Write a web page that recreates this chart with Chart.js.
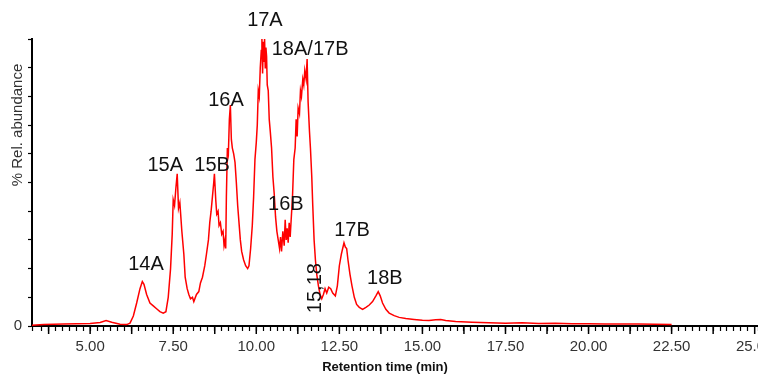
<!DOCTYPE html>
<html>
<head>
<meta charset="utf-8">
<script src="https://cdn.jsdelivr.net/npm/chart.js@4/dist/chart.umd.min.js"></script>
<style>
  body { margin: 0; background: #fff; }
  #wrap { width: 758px; height: 375px; position: relative; }
</style>
</head>
<body>
<div id="wrap"><canvas id="js--chart"></canvas></div>
<script>
// retention time (min) and relative abundance (%)
const times = [
  3.25, 3.6, 3.9, 4.2, 4.6, 5.0, 5.3, 5.48, 5.65, 5.9, 6.1, 6.2, 6.3, 6.4, 6.5, 6.57, 6.62, 6.7, 6.8, 6.9,
  7.0, 7.1, 7.2, 7.28, 7.35, 7.42, 7.47, 7.5, 7.54, 7.58, 7.62, 7.66, 7.7, 7.76, 7.82, 7.86, 7.92, 7.97,
  8.02, 8.08, 8.12, 8.2, 8.27, 8.32, 8.38, 8.45, 8.5, 8.56, 8.6, 8.64, 8.68, 8.72, 8.74, 8.78, 8.81, 8.85,
  8.88, 8.92, 8.96, 9.0, 9.03, 9.06, 9.08, 9.1, 9.13, 9.16, 9.19, 9.22, 9.25, 9.28, 9.32, 9.36, 9.4, 9.44,
  9.48, 9.52, 9.56, 9.62, 9.68, 9.74, 9.78, 9.83, 9.88, 9.92, 9.96, 10.0, 10.03, 10.06, 10.09, 10.12,
  10.15, 10.17, 10.19, 10.21, 10.23, 10.25, 10.27, 10.29, 10.31, 10.33, 10.36, 10.39, 10.42, 10.46, 10.5,
  10.54, 10.58, 10.62, 10.66, 10.7, 10.73, 10.76, 10.8, 10.84, 10.87, 10.9, 10.93, 10.96, 10.99, 11.02,
  11.05, 11.09, 11.13, 11.17, 11.2, 11.23, 11.26, 11.3, 11.33, 11.36, 11.4, 11.43, 11.46, 11.5, 11.53,
  11.56, 11.6, 11.63, 11.67, 11.7, 11.74, 11.78, 11.82, 11.87, 11.92, 11.97, 12.02, 12.07, 12.12, 12.18,
  12.24, 12.3, 12.38, 12.44, 12.5, 12.56, 12.6, 12.64, 12.68, 12.72, 12.76, 12.82, 12.88, 12.95, 13.02,
  13.1, 13.2, 13.3, 13.4, 13.5, 13.6, 13.67, 13.73, 13.8, 13.9, 14.0, 14.15, 14.3, 14.5, 14.75, 15.0,
  15.2, 15.4, 15.55, 15.7, 16.0, 16.5, 17.0, 17.5, 18.0, 18.5, 19.0, 19.5, 20.0, 20.5, 21.0, 21.5, 22.0, 22.5
];
const abundance = [
  0.3, 0.5, 0.6, 0.7, 0.8, 0.9, 1.2, 1.9, 1.3, 0.6, 0.5, 1.0, 3.5, 8, 13, 15.5, 14.5, 11, 8, 7,
  6, 5, 4.5, 5, 10, 20, 32, 44, 42, 48, 53, 41, 43, 33, 25, 17, 13, 11,
  9.5, 10, 8.5, 11, 12, 15, 17, 21, 25, 30, 36, 40, 45, 50, 53, 44, 39, 40,
  35, 36, 32, 33, 28, 30, 27, 45, 62, 60, 72, 77, 65, 62, 60, 57, 50, 42,
  36, 30, 26, 23, 21, 20, 21, 27, 35, 45, 58, 64, 70, 82, 80, 90,
  96, 100, 88, 99, 92, 100, 90, 97, 94, 84, 82, 72, 68, 62, 52,
  46, 38, 33, 30, 27, 31, 26, 33, 28, 37, 30, 34, 29, 36, 31,
  37, 45, 58, 62, 72, 66, 76, 74, 82, 80, 86, 84, 89, 86, 93,
  78, 68, 62, 52, 42, 30, 23, 18, 14, 11, 9.5, 11, 13, 11.5, 13.5,
  13, 11.5, 10.5, 14, 21, 25, 27, 29, 27.5, 27, 23, 18, 14, 10, 7.5,
  6.5, 5.8, 6.5, 7.3, 8.5, 10.5, 12, 10.5, 8, 5.8, 4.5, 3.6, 3.0, 2.6, 2.3, 2.0,
  1.9, 2.2, 2.3, 1.9, 1.6, 1.3, 1.1, 1.0, 1.1, 0.9, 1.0, 0.8, 0.8, 0.7, 0.7, 0.7, 0.6, 0.5
];

// x tick labels (every 2.5 min)
const xLabels = ["5.00", "7.50", "10.00", "12.50", "15.00", "17.50", "20.00", "22.50", "25.00"];
const xLabelValues = [5, 7.5, 10, 12.5, 15, 17.5, 20, 22.5, 25];

// peak annotations: text, retention time, level (%)
const peakNames = ["14A", "15A", "15B", "16A", "17A", "18A/17B", "16B", "15,18", "17B", "18B"];
const peakTimes = [6.68, 7.26, 8.67, 9.09, 10.26, 11.62, 10.89, 11.77, 12.88, 13.87];
const peakLevels = [21.3, 56.1, 56.1, 78.7, 106.6, 96.2, 42.5, 13.2, 33.4, 16.4];

const xMin = 3.25, xMax = 25.1;
const FONT = "'Liberation Sans', Arial, sans-serif";

const points = times.map(function(t, i){
    return {x: t, y: abundance[i]};
});

const extras = {
    id: "extras",
    afterDraw: function(chart){
        const ctx = chart.ctx;
        const xs = chart.scales.x;
        const ys = chart.scales.y;
        const area = chart.chartArea;
        ctx.save();

        // longer ticks every 1.25 min
        ctx.strokeStyle = "#000";
        ctx.lineWidth = 1.5;
        for (let k = Math.ceil(xMin / 1.25); k * 1.25 <= xMax; k++){
            const px = xs.getPixelForValue(k * 1.25);
            ctx.beginPath();
            ctx.moveTo(px, area.bottom);
            ctx.lineTo(px, area.bottom + 8);
            ctx.stroke();
        }

        // x tick labels
        ctx.fillStyle = "#333";
        ctx.font = "15px " + FONT;
        ctx.textAlign = "center";
        ctx.textBaseline = "middle";
        for (let i = 0; i < xLabels.length; i++){
            ctx.fillText(xLabels[i], xs.getPixelForValue(xLabelValues[i]), area.bottom + 21);
        }

        // peak labels
        ctx.fillStyle = "#111";
        ctx.font = "20px " + FONT;
        for (let i = 0; i < peakNames.length; i++){
            const px = xs.getPixelForValue(peakTimes[i]);
            const py = ys.getPixelForValue(peakLevels[i]);
            if (peakNames[i] === "15,18"){
                ctx.save();
                ctx.translate(px, py);
                ctx.rotate(-Math.PI / 2);
                ctx.fillText(peakNames[i], 0, 0);
                ctx.restore();
            } else {
                ctx.fillText(peakNames[i], px, py);
            }
        }

        // y axis texts
        ctx.fillStyle = "#333";
        ctx.font = "15px " + FONT;
        ctx.textAlign = "center";
        ctx.fillText("0", 18, ys.getPixelForValue(0));
        ctx.save();
        ctx.translate(18, 125);
        ctx.rotate(-Math.PI / 2);
        ctx.fillText("% Rel. abundance", 0, 0);
        ctx.restore();

        // x axis title
        ctx.fillStyle = "#111";
        ctx.font = "bold 13px " + FONT;
        ctx.fillText("Retention time (min)", 385, 367);
        ctx.restore();
    }
};

const config = {
    type: "line",
    data: {
        datasets: [{
            label: "TIC",
            data: points,
            borderColor: "#ff0000",
            borderWidth: 1.5,
            pointRadius: 0,
            tension: 0,
            fill: false
        }]
    },
    options: {
        responsive: true,
        maintainAspectRatio: false,
        animation: false,
        layout: { padding: { left: 0, right: 0, top: 39, bottom: 0 } },
        plugins: { legend: { display: false }, tooltip: { enabled: false } },
        scales: {
            x: {
                type: "linear",
                min: xMin,
                max: xMax,
                afterFit: function(scale){
                    scale.height = 49;
                    scale.paddingLeft = 0;
                    scale.paddingRight = 0;
                },
                border: { color: "#000", width: 2 },
                grid: { drawOnChartArea: false, tickLength: 5, tickColor: "#000", tickWidth: 1.2 },
                ticks: {
                    stepSize: 2.5 / 12,
                    autoSkip: false,
                    maxRotation: 0,
                    display: false
                }
            },
            y: {
                min: 0,
                max: 100,
                afterFit: function(scale){ scale.width = 32; },
                border: { color: "#000", width: 2 },
                grid: { drawOnChartArea: false, tickLength: 4, tickColor: "#000", tickWidth: 1.2 },
                ticks: { stepSize: 10, display: false }
            }
        }
    },
    plugins: [extras]
};

new Chart(document.getElementById("js--chart"), config);
</script>
</body>
</html>
